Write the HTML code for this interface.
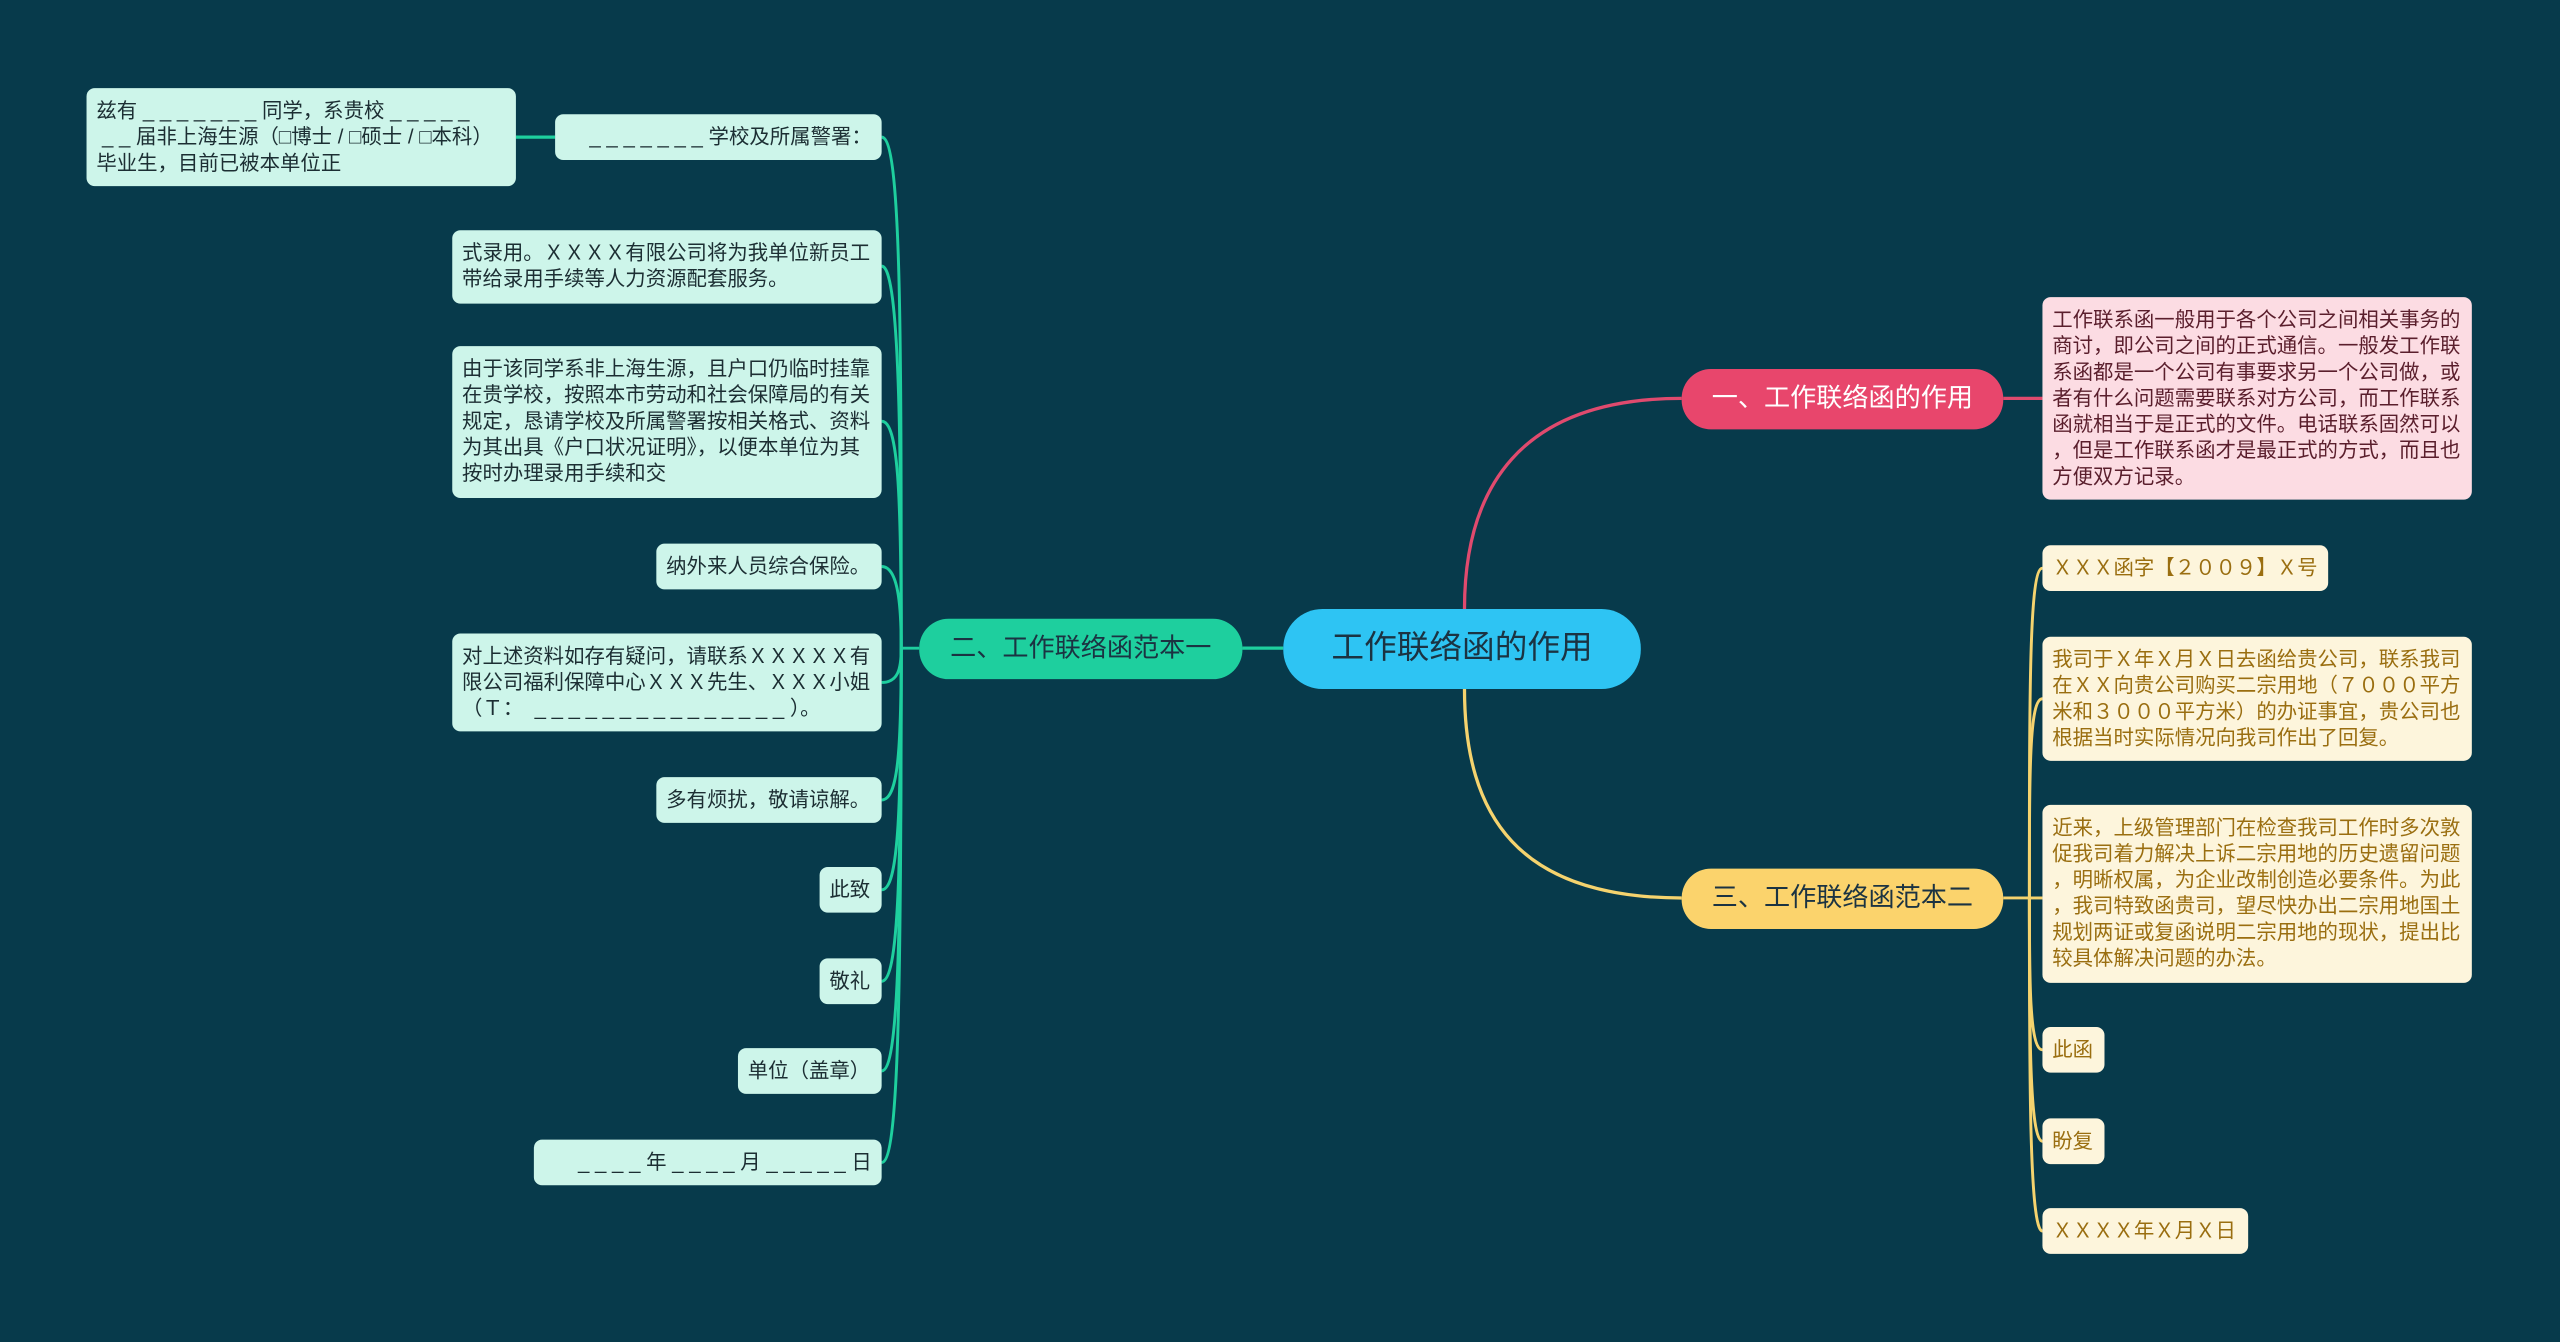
<!DOCTYPE html>
<html><head><meta charset="utf-8"><style>
html,body{margin:0;padding:0;background:#073a4b;}
#wrap{position:absolute;left:0;top:0;width:1568px;height:822px;transform:scale(1.632653);transform-origin:0 0;background:#073a4b;overflow:hidden;font-family:"Liberation Sans","Noto Sans CJK SC",sans-serif;}
.b{position:absolute;box-sizing:border-box;border-radius:5px;font-size:12.5px;line-height:16px;white-space:nowrap;padding:6px 6px;}
.g{background:#cdf5ea;color:#1c2e33;}
.y{background:#fdf5dc;color:#9a6e10;}
.p{background:#fcdce3;color:#5a1e2c;}
.m{position:absolute;box-sizing:border-box;border-radius:20px;text-align:center;white-space:nowrap;}
svg{position:absolute;left:0;top:0;}
</style></head><body><div id="wrap">
<svg width="1568" height="822" fill="none" stroke-width="2">
<path d="M897 373 C897 300 930 244 1030 244" stroke="#e04a6e"/>
<path d="M1227 244 L1251 244" stroke="#e04a6e"/>
<path d="M897 422 C897 500 930 550 1030 550" stroke="#f5d36e"/>
<path d="M786 397 L761 397" stroke="#1ecf9e"/>
<path d="M316 84 L340 84" stroke="#1ecf9e"/>
<g stroke="#1ecf9e" stroke-width="1.8">
<path d="M563 397 L552 397"/>
<path d="M552 397 C552 200 552 84 540 84"/>
<path d="M552 397 C552 250 550 163 540 163"/>
<path d="M552 397 C552 300 550 258 540 258"/>
<path d="M552 397 C552 370 550 347 540 347"/>
<path d="M552 397 C552 410 550 418 540 418"/>
<path d="M552 397 C552 460 550 490 540 490"/>
<path d="M552 397 C552 500 550 545 540 545"/>
<path d="M552 397 C552 540 550 601 540 601"/>
<path d="M552 397 C552 580 550 656 540 656"/>
<path d="M552 397 C552 620 550 712 540 712"/>
</g>
<g stroke="#f5d36e" stroke-width="1.8">
<path d="M1227 550 L1243 550"/>
<path d="M1243 550 C1243 420 1243 348 1251 348"/>
<path d="M1243 550 C1243 470 1243 428 1251 428"/>
<path d="M1243 550 L1251 550"/>
<path d="M1243 550 C1243 600 1243 643 1251 643"/>
<path d="M1243 550 C1243 630 1243 699 1251 699"/>
<path d="M1243 550 C1243 660 1243 754 1251 754"/>
</g>
</svg>
<div class="m" style="left:786px;top:373px;width:219px;height:49px;background:#2ec4f3;color:#1b3342;font-size:20px;line-height:49px;border-radius:24px;">工作联络函的作用</div>
<div class="m" style="left:1030px;top:226px;width:197px;height:37px;background:#e8466c;color:#fff;font-size:16px;line-height:37px;border-radius:18px;">一、工作联络函的作用</div>
<div class="m" style="left:563px;top:379px;width:198px;height:37px;background:#1ecf9e;color:#1b3342;font-size:16px;line-height:37px;border-radius:18px;">二、工作联络函范本一</div>
<div class="m" style="left:1030px;top:532px;width:197px;height:37px;background:#fbd36c;color:#1b3342;font-size:16px;line-height:37px;border-radius:18px;">三、工作联络函范本二</div>

<div class="b p" style="left:1251px;top:182px;width:263px;height:124px;">工作联系函一般用于各个公司之间相关事务的<br>商讨，即公司之间的正式通信。一般发工作联<br>系函都是一个公司有事要求另一个公司做，或<br>者有什么问题需要联系对方公司，而工作联系<br>函就相当于是正式的文件。电话联系固然可以<br>，但是工作联系函才是最正式的方式，而且也<br>方便双方记录。</div>

<div class="b y" style="left:1251px;top:334px;width:175px;height:28px;">ＸＸＸ函字【２００９】Ｘ号</div>
<div class="b y" style="left:1251px;top:390px;width:263px;height:76px;">我司于Ｘ年Ｘ月Ｘ日去函给贵公司，联系我司<br>在ＸＸ向贵公司购买二宗用地（７０００平方<br>米和３０００平方米）的办证事宜，贵公司也<br>根据当时实际情况向我司作出了回复。</div>
<div class="b y" style="left:1251px;top:493px;width:263px;height:109px;">近来，上级管理部门在检查我司工作时多次敦<br>促我司着力解决上诉二宗用地的历史遗留问题<br>，明晰权属，为企业改制创造必要条件。为此<br>，我司特致函贵司，望尽快办出二宗用地国土<br>规划两证或复函说明二宗用地的现状，提出比<br>较具体解决问题的办法。</div>
<div class="b y" style="left:1251px;top:629px;width:38px;height:28px;">此函</div>
<div class="b y" style="left:1251px;top:685px;width:38px;height:28px;">盼复</div>
<div class="b y" style="left:1251px;top:740px;width:126px;height:28px;">ＸＸＸＸ年Ｘ月Ｘ日</div>

<div class="b g" style="left:53px;top:54px;width:263px;height:60px;">兹有 _ _ _ _ _ _ _ 同学，系贵校 _ _ _ _ _<br>&nbsp;_ _ 届非上海生源（□博士 / □硕士 / □本科）<br>毕业生，目前已被本单位正</div>
<div class="b g" style="left:340px;top:70px;width:200px;height:28px;text-align:right;">_ _ _ _ _ _ _ 学校及所属警署：</div>
<div class="b g" style="left:277px;top:141px;width:263px;height:45px;">式录用。ＸＸＸＸ有限公司将为我单位新员工<br>带给录用手续等人力资源配套服务。</div>
<div class="b g" style="left:277px;top:212px;width:263px;height:93px;">由于该同学系非上海生源，且户口仍临时挂靠<br>在贵学校，按照本市劳动和社会保障局的有关<br>规定，恳请学校及所属警署按相关格式、资料<br>为其出具《户口状况证明》，以便本单位为其<br>按时办理录用手续和交</div>
<div class="b g" style="left:402px;top:333px;width:138px;height:28px;">纳外来人员综合保险。</div>
<div class="b g" style="left:277px;top:388px;width:263px;height:60px;">对上述资料如存有疑问，请联系ＸＸＸＸＸ有<br>限公司福利保障中心ＸＸＸ先生、ＸＸＸ小姐<br>（Ｔ：&nbsp; _ _ _ _ _ _ _ _ _ _ _ _ _ _ _ ）。</div>
<div class="b g" style="left:402px;top:476px;width:138px;height:28px;">多有烦扰，敬请谅解。</div>
<div class="b g" style="left:502px;top:531px;width:38px;height:28px;">此致</div>
<div class="b g" style="left:502px;top:587px;width:38px;height:28px;">敬礼</div>
<div class="b g" style="left:452px;top:642px;width:88px;height:28px;">单位（盖章）</div>
<div class="b g" style="left:327px;top:698px;width:213px;height:28px;text-align:right;">_ _ _ _ 年 _ _ _ _ 月 _ _ _ _ _ 日</div>
</div></body></html>
